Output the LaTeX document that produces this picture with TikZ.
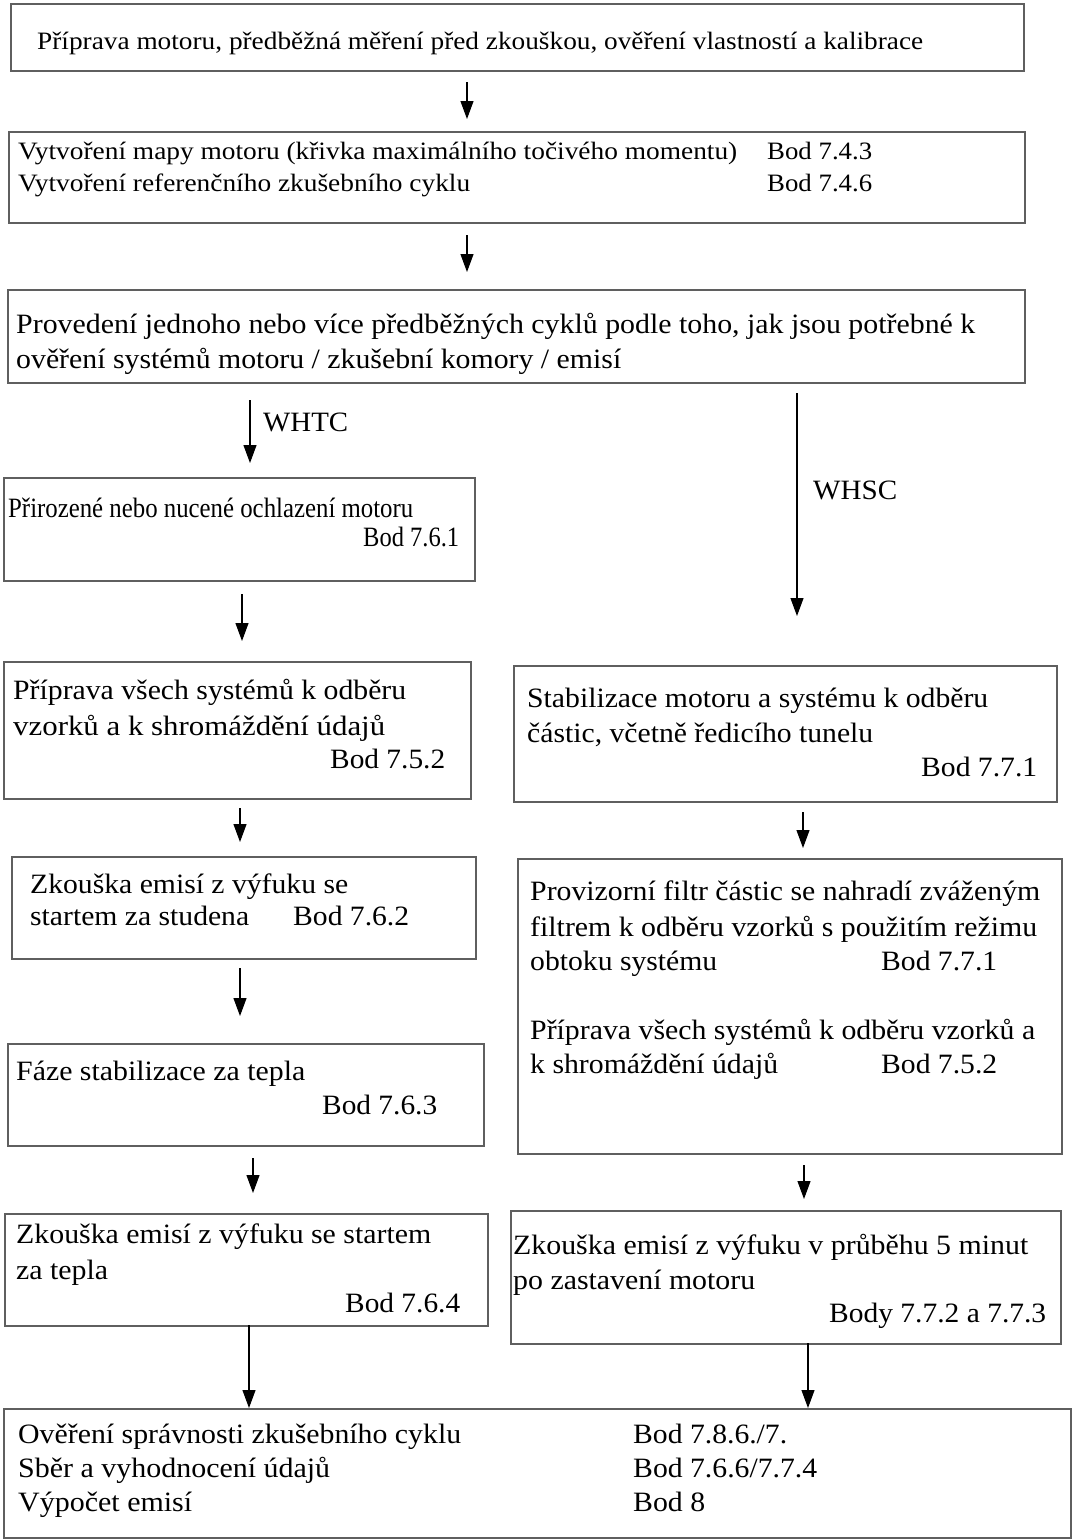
\documentclass[tikz,border=0pt]{standalone}
\usepackage{fontspec}
\setmainfont{Liberation Serif}
\usepackage{graphicx}
\usetikzlibrary{arrows.meta}
\newcommand{\fitw}[2]{\resizebox{#1}{\height}{#2}}
\definecolor{boxgray}{RGB}{95,95,95}
\tikzset{
  box/.style={draw=boxgray, line width=2pt, fill=white, anchor=north west, inner sep=0pt},
  tA/.style={font=\fontsize{28}{30}\selectfont, inner sep=0pt, anchor=base west},
  tB/.style={font=\fontsize{25}{27}\selectfont, inner sep=0pt, anchor=base west},
  tC/.style={font=\fontsize{25}{27}\selectfont, inner sep=0pt, anchor=base west},
  arr/.style={draw=black, line width=1.1pt, -{Triangle[width=13pt,length=18pt]}},
}
\begin{document}
\begin{tikzpicture}[x=1pt,y=-1pt]
\useasboundingbox (0,0) rectangle (1077,1540);
% boxes
\node[box, minimum width=1013pt, minimum height=67pt] (b1) at (10,3) {};
\node[box, minimum width=1016pt, minimum height=91pt] (b2) at (8,131) {};
\node[box, minimum width=1017pt, minimum height=93pt] (b3) at (7,289) {};
\node[box, minimum width=471pt, minimum height=103pt] (l1) at (3,477) {};
\node[box, minimum width=467pt, minimum height=137pt] (l2) at (3,661) {};
\node[box, minimum width=543pt, minimum height=136pt] (r1) at (513,665) {};
\node[box, minimum width=464pt, minimum height=102pt] (l3) at (11,856) {};
\node[box, minimum width=544pt, minimum height=295pt] (r2) at (517,858) {};
\node[box, minimum width=476pt, minimum height=102pt] (l4) at (7,1043) {};
\node[box, minimum width=483pt, minimum height=112pt] (l5) at (4,1213) {};
\node[box, minimum width=550pt, minimum height=133pt] (r3) at (510,1210) {};
\node[box, minimum width=1067pt, minimum height=129pt] (b4) at (3,1408) {};
% texts
\node[tB] (t1) at (37,49) {\fitw{886pt}{Příprava motoru, předběžná měření před zkouškou, ověření vlastností a kalibrace}};
\node[tC] (t2a) at (18,159) {\fitw{719pt}{Vytvoření mapy motoru (křivka maximálního točivého momentu)}};
\node[tC] (t2b) at (18,191) {\fitw{452pt}{Vytvoření referenčního zkušebního cyklu}};
\node[tC] (t2c) at (767,159) {\fitw{105pt}{Bod 7.4.3}};
\node[tC] (t2d) at (767,191) {\fitw{105pt}{Bod 7.4.6}};
\node[tA] (t3a) at (16,333) {\fitw{959pt}{Provedení jednoho nebo více předběžných cyklů podle toho, jak jsou potřebné k}};
\node[tA] (t3b) at (16,368) {\fitw{605pt}{ověření systémů motoru / zkušební komory / emisí}};
\node[tA] (whtc) at (263,431) {\fitw{85pt}{WHTC}};
\node[tA] (whsc) at (813,499) {\fitw{84pt}{WHSC}};
\node[tA] (l1a) at (8,517) {\fitw{405pt}{Přirozené nebo nucené ochlazení motoru}};
\node[tA] (l1b) at (363,546) {\fitw{96pt}{Bod 7.6.1}};
\node[tA] (l2a) at (13,699) {\fitw{393pt}{Příprava všech systémů k odběru}};
\node[tA] (l2b) at (13,735) {\fitw{372pt}{vzorků a k shromáždění údajů}};
\node[tA] (l2c) at (330,768) {\fitw{115pt}{Bod 7.5.2}};
\node[tA] (r1a) at (527,707) {\fitw{461pt}{Stabilizace motoru a systému k odběru}};
\node[tA] (r1b) at (527,742) {\fitw{346pt}{částic, včetně ředicího tunelu}};
\node[tA] (r1c) at (921,776) {\fitw{116pt}{Bod 7.7.1}};
\node[tA] (l3a) at (30,893) {\fitw{318pt}{Zkouška emisí z výfuku se}};
\node[tA] (l3b) at (30,925) {\fitw{219pt}{startem za studena}};
\node[tA] (l3c) at (293,925) {\fitw{116pt}{Bod 7.6.2}};
\node[tA] (r2a) at (530,900) {\fitw{510pt}{Provizorní filtr částic se nahradí zváženým}};
\node[tA] (r2b) at (530,936) {\fitw{507pt}{filtrem k odběru vzorků s použitím režimu}};
\node[tA] (r2c) at (530,970) {\fitw{187pt}{obtoku systému}};
\node[tA] (r2d) at (881,970) {\fitw{116pt}{Bod 7.7.1}};
\node[tA] (r2e) at (530,1039) {\fitw{505pt}{Příprava všech systémů k odběru vzorků a}};
\node[tA] (r2f) at (530,1073) {\fitw{248pt}{k shromáždění údajů}};
\node[tA] (r2g) at (881,1073) {\fitw{116pt}{Bod 7.5.2}};
\node[tA] (l4a) at (16,1080) {\fitw{289pt}{Fáze stabilizace za tepla}};
\node[tA] (l4b) at (322,1114) {\fitw{115pt}{Bod 7.6.3}};
\node[tA] (l5a) at (16,1243) {\fitw{415pt}{Zkouška emisí z výfuku se startem}};
\node[tA] (l5b) at (16,1279) {\fitw{92pt}{za tepla}};
\node[tA] (l5c) at (345,1312) {\fitw{115pt}{Bod 7.6.4}};
\node[tA] (r3a) at (513,1254) {\fitw{515pt}{Zkouška emisí z výfuku v průběhu 5 minut}};
\node[tA] (r3b) at (513,1289) {\fitw{242pt}{po zastavení motoru}};
\node[tA] (r3c) at (829,1322) {\fitw{217pt}{Body 7.7.2 a 7.7.3}};
\node[tA] (b4a) at (18,1443) {\fitw{443pt}{Ověření správnosti zkušebního cyklu}};
\node[tA] (b4b) at (18,1477) {\fitw{312pt}{Sběr a vyhodnocení údajů}};
\node[tA] (b4c) at (18,1511) {\fitw{174pt}{Výpočet emisí}};
\node[tA] (b4d) at (633,1443) {\fitw{154pt}{Bod 7.8.6./7.}};
\node[tA] (b4e) at (633,1477) {\fitw{184pt}{Bod 7.6.6/7.7.4}};
\node[tA] (b4f) at (633,1511) {\fitw{72pt}{Bod 8}};
% arrow end points
\coordinate (a1s) at (467,82);   \coordinate (a1e) at (467,119);
\coordinate (a2s) at (467,235);  \coordinate (a2e) at (467,272);
\coordinate (a3s) at (250,400);  \coordinate (a3e) at (250,463);
\coordinate (a4s) at (797,393);  \coordinate (a4e) at (797,616);
\coordinate (a5s) at (242,594);  \coordinate (a5e) at (242,641);
\coordinate (a6s) at (240,808);  \coordinate (a6e) at (240,842);
\coordinate (a7s) at (803,812);  \coordinate (a7e) at (803,848);
\coordinate (a8s) at (240,968);  \coordinate (a8e) at (240,1016);
\coordinate (a9s) at (253,1158); \coordinate (a9e) at (253,1193);
\coordinate (a10s) at (804,1165); \coordinate (a10e) at (804,1199);
\coordinate (a11s) at (249,1325); \coordinate (a11e) at (249,1408);
\coordinate (a12s) at (808,1343); \coordinate (a12e) at (808,1408);
\foreach \i in {1,...,12} { \draw[arr] (a\i s) -- (a\i e); }
\end{tikzpicture}
\end{document}
